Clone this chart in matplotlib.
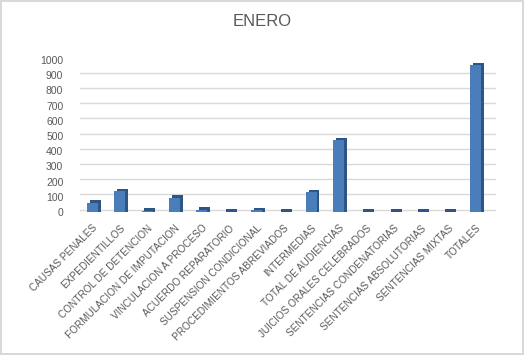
import matplotlib.pyplot as plt
import numpy as np

# datos enero
categorias = ['CAUSAS PENALES', 'EXPEDIENTILLOS', 'CONTROL DE DETENCION',
              'FORMULACION DE IMPUTACION', 'VINCULACION A PROCESO',
              'ACUERDO REPARATORIO', 'SUSPENSION CONDICIONAL',
              'PROCEDIMIENTOS ABREVIADOS', 'INTERMEDIAS', 'TOTAL DE AUDIENCIAS',
              'JUICIOS ORALES CELEBRADOS', 'SENTENCIAS CONDENATORIAS',
              'SENTENCIAS ABSOLUTORIAS', 'SENTENCIAS MIXTAS', 'TOTALES']
valores = [61, 138, 8, 93, 15, 1, 10, 1, 132, 472, 1, 1, 1, 1, 965]
yticks = list(range(0, 1001, 100))

plt.rcParams['font.family'] = ['Liberation Sans', 'DejaVu Sans']

fig = plt.figure(figsize=(5.24, 3.55), dpi=100)
fig.patch.set_edgecolor('#d9d9d9')
fig.patch.set_linewidth(1.5)
ax = fig.add_axes([80 / 524, 1 - 212 / 355, 416 / 524, 152 / 355])

x = np.arange(len(categorias))
ancho = 0.4
prof = 16  # profundidad del efecto 3d
# cara lateral y superior
ax.bar(x + 0.1, np.array(valores) + prof, ancho, color='#2d5686', zorder=2)
ax.bar(x, valores, ancho, color='#4a7ebb', zorder=3)

ax.set_ylim(0, 1000)
ax.set_xlim(-0.45, 14.75)
ax.set_yticks(yticks)
ax.set_yticklabels([str(v) for v in yticks], fontsize=7.5, color='#595959')
ax.set_xticks(x)
ax.set_xticklabels(categorias, rotation=45, ha='right', rotation_mode='anchor',
                   fontsize=7.2, color='#595959')
ax.tick_params(length=0)
ax.tick_params(axis='x', pad=8)
ax.tick_params(axis='y', pad=12)
for v in yticks:
    ax.axhline(v + prof, color='#d9d9d9', lw=1, zorder=1)
for s in ax.spines.values():
    s.set_visible(False)

fig.text(0.5, 1 - 22 / 355, 'ENERO', ha='center', va='center', fontsize=12,
         color='#595959')

fig.savefig('out.png', dpi=100, edgecolor=fig.get_edgecolor())
